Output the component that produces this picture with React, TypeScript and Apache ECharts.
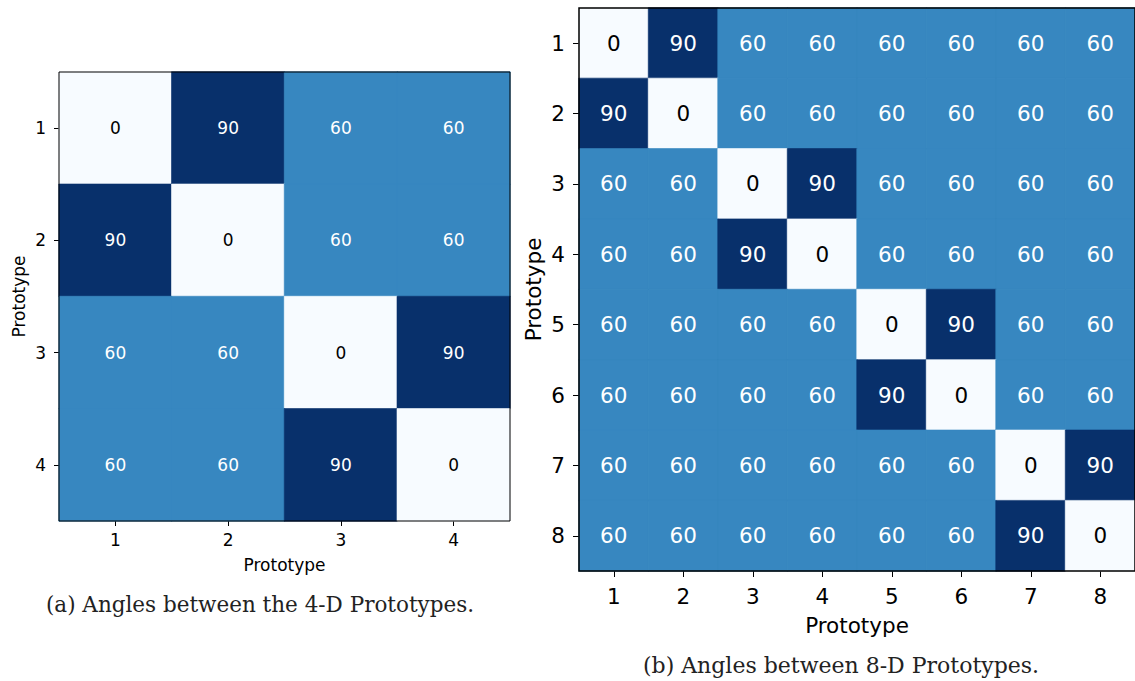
import React, { useEffect, useRef } from "react";
import * as echarts from "echarts";

const labels4 = ["1", "2", "3", "4"];
const labels8 = ["1", "2", "3", "4", "5", "6", "7", "8"];
const angles4: number[][] = [
  [0, 90, 60, 60],
  [90, 0, 60, 60],
  [60, 60, 0, 90],
  [60, 60, 90, 0],
];
const angles8: number[][] = [
  [0, 90, 60, 60, 60, 60, 60, 60],
  [90, 0, 60, 60, 60, 60, 60, 60],
  [60, 60, 0, 90, 60, 60, 60, 60],
  [60, 60, 90, 0, 60, 60, 60, 60],
  [60, 60, 60, 60, 0, 90, 60, 60],
  [60, 60, 60, 60, 90, 0, 60, 60],
  [60, 60, 60, 60, 60, 60, 0, 90],
  [60, 60, 60, 60, 60, 60, 90, 0],
];
const captionA = "(a) Angles between the 4-D Prototypes.";
const captionB = "(b) Angles between 8-D Prototypes.";
const axisName = "Prototype";

const cmap = (v: number) => (v === 0 ? "#f7fbff" : v === 90 ? "#08306b" : "#3787c0");

function buildData(m: number[][]) {
  const out: any[] = [];
  m.forEach((row, r) =>
    row.forEach((v, c) => {
      out.push({
        value: [c, r, v],
        itemStyle: { borderColor: cmap(v), borderWidth: 0.6 },
        label: { color: v === 0 ? "#000" : "#fff" },
      });
    })
  );
  return out;
}

export default function App() {
  const ref = useRef<HTMLDivElement>(null);
  useEffect(() => {
    const chart = echarts.init(ref.current!, null, { renderer: "svg" });
    const font = "DejaVu Sans";
    const mkX = (data: string[], gi: number, fs: number, tick: number, margin: number, gap: number) => ({
      type: "category",
      gridIndex: gi,
      data,
      position: "bottom",
      name: axisName,
      nameLocation: "middle",
      nameGap: gap,
      nameTextStyle: { fontFamily: font, fontSize: fs, color: "#000" },
      axisLine: { show: false },
      axisTick: { show: true, alignWithLabel: true, length: tick, lineStyle: { color: "#000" } },
      axisLabel: { fontFamily: font, fontSize: fs, color: "#000", margin },
      splitLine: { show: false },
    });
    const mkY = (data: string[], gi: number, fs: number, tick: number, margin: number, gap: number) => ({
      type: "category",
      gridIndex: gi,
      data,
      inverse: true,
      name: axisName,
      nameLocation: "middle",
      nameGap: gap,
      nameRotate: 90,
      nameTextStyle: { fontFamily: font, fontSize: fs, color: "#000" },
      axisLine: { show: false },
      axisTick: { show: true, alignWithLabel: true, length: tick, lineStyle: { color: "#000" } },
      axisLabel: { fontFamily: font, fontSize: fs, color: "#000", margin },
      splitLine: { show: false },
    });
    chart.setOption({
      animation: false,
      backgroundColor: "#fff",
      visualMap: {
        type: "piecewise",
        show: false,
        dimension: 2,
        seriesIndex: [0, 1],
        pieces: [
          { value: 0, color: cmap(0) },
          { value: 60, color: cmap(60) },
          { value: 90, color: cmap(90) },
        ],
      },
      grid: [
        { left: 59, top: 72, width: 451, height: 449, show: true, borderColor: "#000", borderWidth: 1, backgroundColor: "transparent", z: 3 },
        { left: 579, top: 8, width: 565, height: 563, show: true, borderColor: "#000", borderWidth: 1.5, backgroundColor: "transparent", z: 3 },
      ],
      xAxis: [mkX(labels4, 0, 17, 5, 10, 35), mkX(labels8, 1, 21.5, 6, 14, 43)],
      yAxis: [mkY(labels4, 0, 17, 5, 13, 32), mkY(labels8, 1, 21.5, 6, 14, 35)],
      series: [
        {
          type: "heatmap",
          xAxisIndex: 0,
          yAxisIndex: 0,
          data: buildData(angles4),
          label: { show: true, fontFamily: font, fontSize: 17, formatter: (p: any) => String(p.value[2]) },
          emphasis: { disabled: true },
        },
        {
          type: "heatmap",
          xAxisIndex: 1,
          yAxisIndex: 1,
          data: buildData(angles8),
          label: { show: true, fontFamily: font, fontSize: 21.5, formatter: (p: any) => String(p.value[2]) },
          emphasis: { disabled: true },
        },
      ],
      graphic: [
        {
          type: "text",
          x: 260,
          y: 604,
          style: { text: captionA, fontFamily: "DejaVu Serif", fontSize: 21.5, fill: "#222", align: "center", verticalAlign: "middle" },
        },
        {
          type: "text",
          x: 841,
          y: 665,
          style: { text: captionB, fontFamily: "DejaVu Serif", fontSize: 22, fill: "#222", align: "center", verticalAlign: "middle" },
        },
      ],
    });
    return () => chart.dispose();
  }, []);
  return <div ref={ref} style={{ position: "absolute", left: 0, top: 0, width: 1135, height: 681 }} />;
}
